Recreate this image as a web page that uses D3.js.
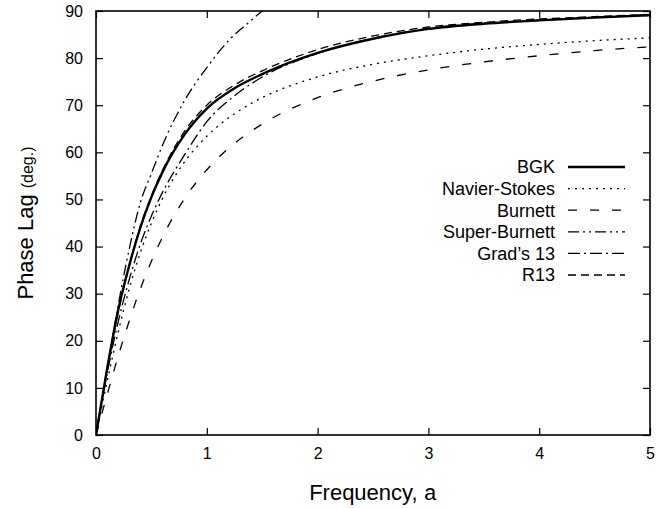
<!DOCTYPE html>
<html>
<head>
<meta charset="utf-8">
<script src="https://cdn.jsdelivr.net/npm/d3@7"></script>
<style>
  body { margin: 0; background: #fff; }
  text { font-family: "Liberation Sans", Arial, Helvetica, sans-serif; fill: #000; }
</style>
</head>
<body>
<div id="chart"></div>
<script>
// frequency samples shared by most curves
var freq = [0, 0.1, 0.2, 0.3, 0.4, 0.5, 0.6, 0.8, 1.0, 1.25, 1.5, 2, 2.5, 3, 3.5, 4, 4.5, 5];

var bgk     = [0, 14, 26.5, 36, 44, 50.5, 55.8, 63.8, 69.3, 73.6, 76.6, 81.1, 84.1, 86.2, 87.3, 88.0, 88.6, 89.1];
var navier  = [0, 11.3, 21.8, 31.0, 38.7, 45.0, 50.2, 58.0, 63.4, 68.2, 71.6, 76.0, 78.7, 80.5, 81.9, 82.9, 83.7, 84.3];
var burnett = [0, 8.5, 16.7, 24.2, 31.0, 36.9, 42.0, 50.2, 56.3, 61.9, 66.0, 71.6, 75.1, 77.5, 79.2, 80.5, 81.6, 82.4];
var grad13  = [0, 13, 24, 33, 40.5, 46.5, 51.5, 59.5, 66.5, 72, 76, 81, 84.2, 86.3, 87.4, 88.1, 88.7, 89.2];
var r13     = [0, 13.8, 26, 35.8, 44.3, 50.8, 56.2, 64.5, 70, 74.3, 77.3, 81.8, 84.7, 86.6, 87.6, 88.3, 88.8, 89.3];

// super-burnett runs off the top, so it has its own x samples
var sbFreq  = [0, 0.1, 0.2, 0.3, 0.4, 0.5, 0.6, 0.8, 1.0, 1.2, 1.4, 1.5, 1.6];
var superB  = [0, 14, 27.5, 39.5, 49.3, 55.5, 61.5, 71, 78, 83.8, 88, 90, 91.8];

var xTicks = [0, 1, 2, 3, 4, 5];
var yTicks = [0, 10, 20, 30, 40, 50, 60, 70, 80, 90];

var series = [
  { name: "BGK",           xs: freq,   ys: bgk,     width: 2.4, dash: null },
  { name: "Navier-Stokes", xs: freq,   ys: navier,  width: 1.3, dash: "2,5" },
  { name: "Burnett",       xs: freq,   ys: burnett, width: 1.3, dash: "9,13" },
  { name: "Super-Burnett", xs: sbFreq, ys: superB,  width: 1.3, dash: "11,4,2,4,2,4" },
  { name: "Grad\u2019s 13", xs: freq,  ys: grad13,  width: 1.3, dash: "12,4,2,4" },
  { name: "R13",           xs: freq,   ys: r13,     width: 1.3, dash: "8,5" }
];

var W = 656, H = 508;
var margin = { top: 11, right: 6, bottom: 73, left: 96 },
  width = W - margin.left - margin.right,
  height = H - margin.top - margin.bottom;

var svg = d3.select("#chart").append("svg")
  .attr("width", W)
  .attr("height", H);

var g = svg.append("g")
  .attr("transform", "translate(" + margin.left + "," + margin.top + ")");

var x = d3.scaleLinear().domain([0, 5]).range([0, width]);
var y = d3.scaleLinear().domain([0, 90]).range([height, 0]);

g.append("clipPath").attr("id", "clip")
  .append("rect").attr("width", width).attr("height", height);

// axes, ticks pointing inward on all four sides
var tk = 7;
var xAxis = d3.axisBottom(x).tickValues(xTicks).tickSize(-tk).tickPadding(13).tickFormat(d3.format("d"));
var yAxis = d3.axisLeft(y).tickValues(yTicks).tickSize(-tk).tickPadding(13).tickFormat(d3.format("d"));

g.append("g").attr("transform", "translate(0," + height + ")").call(xAxis)
  .call(function(s) { s.select(".domain").remove(); })
  .selectAll("text").style("font-size", "16px").attr("dy", "0.71em");
g.append("g").call(yAxis)
  .call(function(s) { s.select(".domain").remove(); })
  .selectAll("text").style("font-size", "16px");
g.append("g").call(d3.axisTop(x).tickValues(xTicks).tickSize(-tk).tickFormat(""))
  .call(function(s) { s.select(".domain").remove(); });
g.append("g").attr("transform", "translate(" + width + ",0)")
  .call(d3.axisRight(y).tickValues(yTicks).tickSize(-tk).tickFormat(""))
  .call(function(s) { s.select(".domain").remove(); });

g.selectAll(".tick line").attr("stroke", "#000").attr("stroke-width", 1.2);

var line = d3.line()
  .x(function(d) { return x(d[0]); })
  .y(function(d) { return y(d[1]); })
  .curve(d3.curveMonotoneX);

var plot = g.append("g").attr("clip-path", "url(#clip)");
series.forEach(function(s) {
  var pts = s.xs.map(function(v, i) { return [v, s.ys[i]]; });
  plot.append("path")
    .datum(pts)
    .attr("d", line)
    .attr("fill", "none")
    .attr("stroke", "#000")
    .attr("stroke-width", s.width)
    .attr("stroke-dasharray", s.dash);
});

// frame
g.append("rect")
  .attr("width", width).attr("height", height)
  .attr("fill", "none").attr("stroke", "#000").attr("stroke-width", 1.6);

// legend
var legend = g.append("g");
series.forEach(function(s, i) {
  var ly = 156 + i * 21.6;
  legend.append("text")
    .attr("x", 459).attr("y", ly)
    .attr("dy", "0.35em")
    .attr("text-anchor", "end")
    .style("font-size", "18px")
    .text(s.name);
  legend.append("line")
    .attr("x1", 472).attr("x2", 529)
    .attr("y1", ly).attr("y2", ly)
    .attr("stroke", "#000")
    .attr("stroke-width", s.width)
    .attr("stroke-dasharray", s.dash);
});

// axis titles
var xt = svg.append("text")
  .attr("x", margin.left + width / 2)
  .attr("y", 500)
  .attr("text-anchor", "middle")
  .style("font-size", "22px");
xt.append("tspan").text("Frequency, ");
xt.append("tspan").style("font-family", "'Liberation Mono', 'DejaVu Sans Mono', monospace").text("a");

var yt = svg.append("text")
  .attr("transform", "translate(33," + (margin.top + height / 2) + ") rotate(-90)")
  .attr("text-anchor", "middle")
  .style("font-size", "22px");
yt.append("tspan").text("Phase Lag ");
yt.append("tspan").style("font-size", "16px").text("(deg.)");
</script>
</body>
</html>
